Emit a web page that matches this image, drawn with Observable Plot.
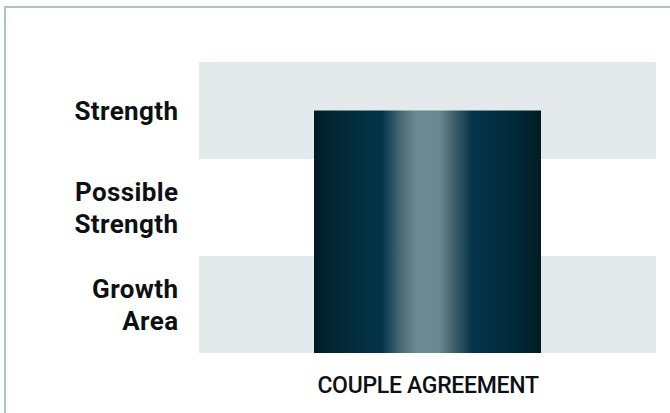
<!DOCTYPE html>
<html>
<head>
<meta charset="utf-8">
<script src="https://cdn.jsdelivr.net/npm/d3@7"></script>
<script src="https://cdn.jsdelivr.net/npm/@observablehq/plot@0.6"></script>
<style>
  html, body { margin: 0; padding: 0; background: #fff; }
  #wrap { position: relative; width: 670px; height: 413px; overflow: hidden; }
  #border { position: absolute; left: 4px; top: 6px; width: 700px; height: 500px;
            border-top: 2px solid #a6c6c8; border-left: 2px solid #a6c6c8; box-sizing: border-box; }
  #chart { position: absolute; left: 0; top: 0; }
</style>
</head>
<body>
<div id="wrap"><div id="border"></div><div id="chart"></div></div>
<script>
// Rating levels (bottom to top) and their label text
const levels = ["Growth\nArea", "Possible\nStrength", "Strength"];
const levelPositions = [0.5, 1.5, 2.5];
// Shaded bands: [start, end] in level units
const bandStarts = [0, 2];
const bandEnds = [1, 3];
// Categories and values
const categories = ["COUPLE AGREEMENT"];
const values = [2.5];

const bars = categories.map((c, i) => ({category: c, value: values[i]}));
const bands = bandStarts.map((s, i) => ({y1: s, y2: bandEnds[i]}));

const plot = Plot.plot({
  width: 670,
  height: 413,
  marginTop: 62,
  marginBottom: 60,
  marginLeft: 199,
  marginRight: 14,
  style: {fontFamily: "Roboto, sans-serif", background: "transparent", overflow: "visible"},
  x: {domain: categories, padding: 0.335, label: null},
  y: {domain: [0, 3], label: null},
  marks: [
    Plot.rect(bands, {y1: "y1", y2: "y2", fill: "#e4e9ec"}),
    () => {
      const ns = "http://www.w3.org/2000/svg";
      const defs = document.createElementNS(ns, "defs");
      defs.innerHTML = `<linearGradient id="barGrad" x1="0" x2="1" y1="0" y2="0">
        <stop offset="0" stop-color="#011b24"/>
        <stop offset="0.12" stop-color="#022a38"/>
        <stop offset="0.3" stop-color="#04344a"/>
        <stop offset="0.38" stop-color="#466873"/>
        <stop offset="0.45" stop-color="#6c8890"/>
        <stop offset="0.55" stop-color="#6c8890"/>
        <stop offset="0.62" stop-color="#3c5d68"/>
        <stop offset="0.7" stop-color="#04334a"/>
        <stop offset="0.88" stop-color="#022a38"/>
        <stop offset="1" stop-color="#011b24"/>
      </linearGradient>`;
      return defs;
    },
    Plot.barY(bars, {x: "category", y: "value", fill: "url(#barGrad)"}),
    Plot.axisY({ticks: levelPositions, tickFormat: (d) => levels[levelPositions.indexOf(d)],
      tickSize: 0, tickPadding: 21, fontSize: 26, fontWeight: 700, lineHeight: 1.25,
      fill: "#0d1114", label: null, dy: -1.5}),
    Plot.axisX({tickSize: 0, tickPadding: 23, fontSize: 23, fontWeight: 500,
      fill: "#0d1114", label: null})
  ]
});

const svg = d3.select(plot);
svg.selectAll("g[aria-label='y-axis tick label']").style("letter-spacing", "0.4px");
svg.selectAll("g[aria-label='x-axis tick label']").style("letter-spacing", "-0.3px");

document.getElementById("chart").appendChild(plot);
</script>
</body>
</html>
